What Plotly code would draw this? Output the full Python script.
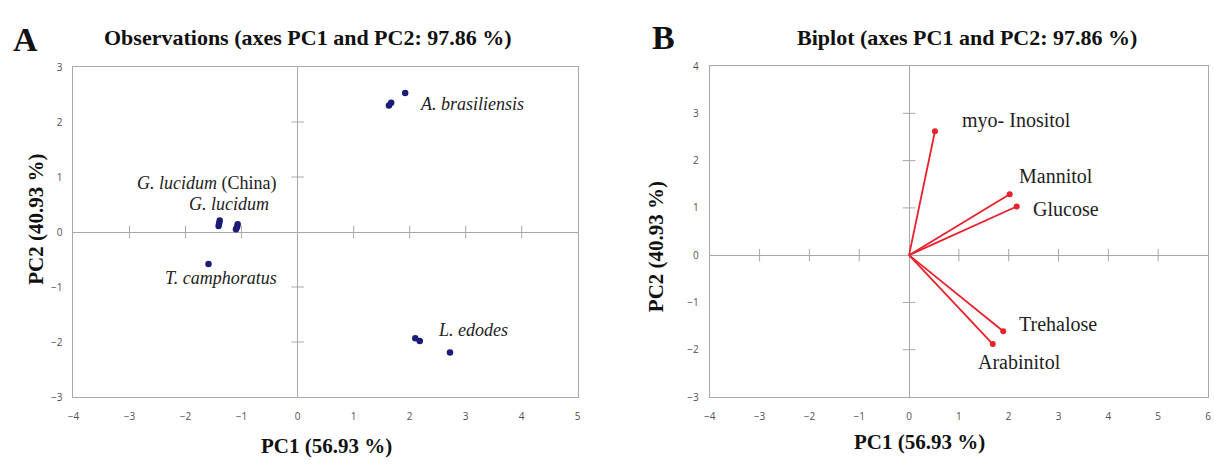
import plotly.graph_objects as go

# ---- Observation scores (PC1, PC2) ----
obs_groups = ["A. brasiliensis", "G. lucidum (China)", "G. lucidum", "T. camphoratus", "L. edodes"]
obs_pc1 = [
    [1.92, 1.67, 1.63],
    [-1.39, -1.40, -1.41],
    [-1.07, -1.08, -1.10],
    [-1.59],
    [2.10, 2.18, 2.72],
]
obs_pc2 = [
    [2.53, 2.35, 2.30],
    [0.21, 0.16, 0.11],
    [0.14, 0.09, 0.05],
    [-0.58],
    [-1.93, -1.98, -2.19],
]
obs_label_text = [
    "<i>A. brasiliensis</i>",
    "<i>G. lucidum</i> (China)",
    "<i>G. lucidum</i>",
    "<i>T. camphoratus</i>",
    "<i>L. edodes</i>",
]
obs_label_pos = [(3.12, 2.32), (-1.62, 0.88), (-1.22, 0.51), (-1.36, -0.83), (3.13, -1.78)]

# ---- Variable loadings (biplot vectors) ----
variables = ["myo- Inositol", "Mannitol", "Glucose", "Trehalose", "Arabinitol"]
var_pc1 = [0.52, 2.02, 2.16, 1.89, 1.68]
var_pc2 = [2.62, 1.29, 1.03, -1.61, -1.88]
var_label_pos = [(2.15, 2.85), (2.94, 1.68), (3.14, 0.98), (2.99, -1.45), (2.21, -2.27)]

# axis settings
a_xticks = list(range(-4, 6))
a_yticks = list(range(-3, 4))
b_xticks = list(range(-4, 7))
b_yticks = list(range(-3, 5))

GRID = "#a8a8a8"
NAVY = "#1c1c78"
RED = "#e8212b"
SERIF = "Liberation Serif"


def inner(ticks):
    return [t for t in ticks if t not in (0, ticks[0], ticks[-1])]


fig = go.Figure()

# small tick marks along the zero lines
for xa, ya, xt, yt in (("x", "y", a_xticks, a_yticks), ("x2", "y2", b_xticks, b_yticks)):
    xs = inner(xt)
    ys = inner(yt)
    fig.add_trace(go.Scatter(
        x=xs, y=[0] * len(xs), mode="markers",
        marker=dict(symbol="line-ns-open", size=9, color=GRID, line=dict(color=GRID, width=1)),
        xaxis=xa, yaxis=ya, hoverinfo="skip", showlegend=False))
    fig.add_trace(go.Scatter(
        x=[0] * len(ys), y=ys, mode="markers",
        marker=dict(symbol="line-ew-open", size=9, color=GRID, line=dict(color=GRID, width=1)),
        xaxis=xa, yaxis=ya, hoverinfo="skip", showlegend=False))

# observation points
for name, xs, ys in zip(obs_groups, obs_pc1, obs_pc2):
    fig.add_trace(go.Scatter(
        x=xs, y=ys, mode="markers", name=name,
        marker=dict(color=NAVY, size=6.5),
        xaxis="x", yaxis="y", showlegend=False))

# loading vectors
for name, vx, vy in zip(variables, var_pc1, var_pc2):
    fig.add_trace(go.Scatter(
        x=[0, vx], y=[0, vy], mode="lines", name=name,
        line=dict(color=RED, width=1.8),
        xaxis="x2", yaxis="y2", showlegend=False))
    fig.add_trace(go.Scatter(
        x=[vx], y=[vy], mode="markers", name=name,
        marker=dict(color=RED, size=6),
        xaxis="x2", yaxis="y2", showlegend=False))

annotations = []
for text, (lx, ly) in zip(obs_label_text, obs_label_pos):
    annotations.append(dict(x=lx, y=ly, xref="x", yref="y", text=text, showarrow=False,
                            xanchor="center", yanchor="middle",
                            font=dict(family=SERIF, size=18, color="#222222")))
for text, (lx, ly) in zip(variables, var_label_pos):
    annotations.append(dict(x=lx, y=ly, xref="x2", yref="y2", text=text, showarrow=False,
                            xanchor="center", yanchor="middle",
                            font=dict(family=SERIF, size=20, color="#222222")))

H = 464.0
W = 1214.0


def px(x):
    return x / W


def py(y):
    return 1 - y / H


# panel letters, titles and axis titles
page_text = [
    dict(x=px(20), y=py(33), text="<b>A</b>", font=dict(family=SERIF, size=34, color="#111")),
    dict(x=px(662), y=py(31), text="<b>B</b>", font=dict(family=SERIF, size=34, color="#111")),
    dict(x=px(304), y=py(30), text="<b>Observations (axes PC1 and PC2: 97.86 %)</b>",
         font=dict(family=SERIF, size=22, color="#111")),
    dict(x=px(968), y=py(31), text="<b>Biplot (axes PC1 and PC2: 97.86 %)</b>",
         font=dict(family=SERIF, size=22, color="#111")),
    dict(x=px(323), y=py(453), text="<b>PC1 (56.93 %)</b>",
         font=dict(family=SERIF, size=21, color="#111")),
    dict(x=px(920), y=py(448), text="<b>PC1 (56.93 %)</b>",
         font=dict(family=SERIF, size=21, color="#111")),
    dict(x=px(30), y=py(218), text="<b>PC2 (40.93 %)</b>", textangle=-90,
         font=dict(family=SERIF, size=21, color="#111")),
    dict(x=px(655), y=py(247), text="<b>PC2 (40.93 %)</b>", textangle=-90,
         font=dict(family=SERIF, size=21, color="#111")),
]
for a in page_text:
    a.update(xref="paper", yref="paper", showarrow=False, xanchor="center", yanchor="middle")
annotations += page_text

axis_common = dict(
    showgrid=False, zeroline=True, zerolinecolor=GRID, zerolinewidth=1,
    showline=True, mirror=True, linecolor=GRID, linewidth=1.2,
    ticks="", tickfont=dict(family="Open Sans", size=10, color="#505050"),
    fixedrange=True,
)

fig.update_layout(
    width=1214, height=464,
    margin=dict(l=0, r=0, t=0, b=0),
    paper_bgcolor="white", plot_bgcolor="white",
    xaxis=dict(domain=[px(68), px(576)], range=[a_xticks[0], a_xticks[-1]],
               tickvals=a_xticks, anchor="y", ticklabelstandoff=10, **axis_common),
    yaxis=dict(domain=[py(402), py(61)], range=[a_yticks[0], a_yticks[-1]],
               tickvals=a_yticks, anchor="x", ticklabelstandoff=8, **axis_common),
    xaxis2=dict(domain=[px(709), px(1211)], range=[b_xticks[0], b_xticks[-1]],
                tickvals=b_xticks, anchor="y2", ticklabelstandoff=10, **axis_common),
    yaxis2=dict(domain=[py(402), py(60)], range=[b_yticks[0], b_yticks[-1]],
                tickvals=b_yticks, anchor="x2", ticklabelstandoff=8, **axis_common),
    annotations=annotations,
    showlegend=False,
)

fig.write_html("out.html")
